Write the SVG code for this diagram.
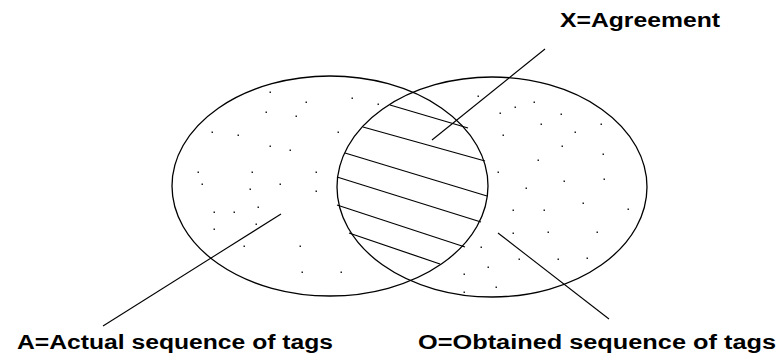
<svg xmlns="http://www.w3.org/2000/svg" width="777" height="354" viewBox="0 0 777 354">
<style>
.shape{fill:none;stroke:#000;stroke-width:1.3}
.hatch{fill:none;stroke:#000;stroke-width:1.2}
.lead{fill:none;stroke:#000;stroke-width:1.1}
.dot{fill:#222}
.lbl{font-family:"Liberation Sans",Arial,sans-serif;font-weight:bold;font-size:20px;fill:#000}
</style>
<rect width="777" height="354" fill="#fff"/>
<defs>
<clipPath id="lens">
<ellipse cx="330" cy="186" rx="158" ry="110"/>
</clipPath>
</defs>
<g id="setA">
<ellipse class="shape" cx="330" cy="186" rx="158" ry="110"/>
<g class="dot">
<rect x="269.5" y="91.5" width="1.5" height="1.5"/>
<rect x="351.5" y="97.5" width="1.5" height="1.5"/>
<rect x="305.5" y="101.5" width="1.5" height="1.5"/>
<rect x="377.5" y="103.5" width="1.5" height="1.5"/>
<rect x="265.5" y="111.5" width="1.5" height="1.5"/>
<rect x="295.5" y="115.5" width="1.5" height="1.5"/>
<rect x="211.5" y="131.5" width="1.5" height="1.5"/>
<rect x="237.5" y="134.5" width="1.5" height="1.5"/>
<rect x="337.5" y="131.5" width="1.5" height="1.5"/>
<rect x="269.5" y="145.5" width="1.5" height="1.5"/>
<rect x="289.5" y="149.5" width="1.5" height="1.5"/>
<rect x="197.5" y="171.5" width="1.5" height="1.5"/>
<rect x="251.5" y="171.5" width="1.5" height="1.5"/>
<rect x="315.5" y="171.5" width="1.5" height="1.5"/>
<rect x="201.5" y="183.5" width="1.5" height="1.5"/>
<rect x="279.5" y="183.5" width="1.5" height="1.5"/>
<rect x="249.5" y="188.5" width="1.5" height="1.5"/>
<rect x="315.5" y="190.5" width="1.5" height="1.5"/>
<rect x="213.5" y="211.5" width="1.5" height="1.5"/>
<rect x="233.5" y="211.5" width="1.5" height="1.5"/>
<rect x="257.5" y="206.5" width="1.5" height="1.5"/>
<rect x="255.5" y="223.5" width="1.5" height="1.5"/>
<rect x="213.5" y="228.5" width="1.5" height="1.5"/>
<rect x="243.5" y="245.5" width="1.5" height="1.5"/>
<rect x="299.5" y="245.5" width="1.5" height="1.5"/>
<rect x="301.5" y="271.5" width="1.5" height="1.5"/>
<rect x="340.5" y="271.5" width="1.5" height="1.5"/>
</g>
</g>
<g id="setO">
<ellipse class="shape" cx="492" cy="187" rx="155" ry="110"/>
<g class="dot">
<rect x="477.5" y="95.5" width="1.5" height="1.5"/>
<rect x="499.5" y="112.5" width="1.5" height="1.5"/>
<rect x="514.5" y="106.5" width="1.5" height="1.5"/>
<rect x="533.5" y="101.5" width="1.5" height="1.5"/>
<rect x="560.5" y="113.5" width="1.5" height="1.5"/>
<rect x="540.5" y="123.5" width="1.5" height="1.5"/>
<rect x="600.5" y="123.5" width="1.5" height="1.5"/>
<rect x="502.5" y="134.5" width="1.5" height="1.5"/>
<rect x="574.5" y="131.5" width="1.5" height="1.5"/>
<rect x="561.5" y="145.5" width="1.5" height="1.5"/>
<rect x="537.5" y="159.5" width="1.5" height="1.5"/>
<rect x="602.5" y="153.5" width="1.5" height="1.5"/>
<rect x="497.5" y="171.5" width="1.5" height="1.5"/>
<rect x="563.5" y="180.5" width="1.5" height="1.5"/>
<rect x="603.5" y="178.5" width="1.5" height="1.5"/>
<rect x="525.5" y="187.5" width="1.5" height="1.5"/>
<rect x="582.5" y="202.5" width="1.5" height="1.5"/>
<rect x="627.5" y="208.5" width="1.5" height="1.5"/>
<rect x="512.5" y="209.5" width="1.5" height="1.5"/>
<rect x="543.5" y="209.5" width="1.5" height="1.5"/>
<rect x="512.5" y="232.5" width="1.5" height="1.5"/>
<rect x="547.5" y="231.5" width="1.5" height="1.5"/>
<rect x="596.5" y="231.5" width="1.5" height="1.5"/>
<rect x="480.5" y="246.5" width="1.5" height="1.5"/>
<rect x="518.5" y="258.5" width="1.5" height="1.5"/>
<rect x="557.5" y="258.5" width="1.5" height="1.5"/>
<rect x="586.5" y="257.5" width="1.5" height="1.5"/>
<rect x="487.5" y="266.5" width="1.5" height="1.5"/>
<rect x="463.5" y="273.5" width="1.5" height="1.5"/>
<rect x="495.5" y="286.5" width="1.5" height="1.5"/>
<rect x="463.5" y="291.5" width="1.5" height="1.5"/>
</g>
</g>
<g id="agreement">
<g class="hatch">
<line x1="390" y1="105" x2="468" y2="128"/>
<line x1="363" y1="127" x2="485" y2="161"/>
<line x1="345" y1="153" x2="487" y2="196"/>
<line x1="337" y1="177" x2="481" y2="222"/>
<line x1="337" y1="205" x2="465" y2="247"/>
<line x1="349" y1="233" x2="440" y2="264"/>
</g>
</g>
<g id="connectors">
<line class="lead" x1="545" y1="49" x2="432" y2="140"/>
<line class="lead" x1="281" y1="214" x2="103" y2="326"/>
<line class="lead" x1="498" y1="233" x2="609" y2="319"/>
</g>
<g id="labels">
<text class="lbl" x="560" y="27" textLength="160" lengthAdjust="spacingAndGlyphs">X=Agreement</text>
<text class="lbl" x="17" y="349" textLength="316" lengthAdjust="spacingAndGlyphs">A=Actual sequence of tags</text>
<text class="lbl" x="418" y="349" textLength="358" lengthAdjust="spacingAndGlyphs">O=Obtained sequence of tags</text>
</g>
</svg>
